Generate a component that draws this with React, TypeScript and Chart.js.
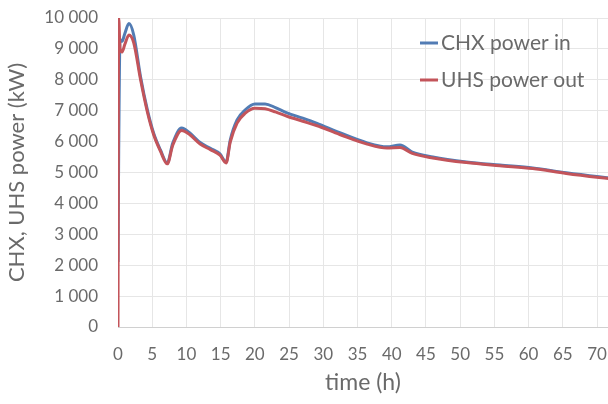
import React, { useEffect, useRef } from "react";
import { Chart, registerables } from "chart.js";

Chart.register(...registerables);

// Time axis (hours) shared by both series
const timeHours = [
  0, 0.1, 0.3, 0.6, 1.0, 1.6, 2.3, 3.3, 4.3, 5.2, 6.2, 7.2, 8.0, 9.3, 10.5, 12,
  13.5, 14.9, 15.8, 16.4, 17.4, 18.6, 20, 21.5, 23, 24.7, 27, 29, 32.4, 36.4,
  39.3, 41.2, 43, 46, 50.9, 55.8, 60.6, 65.5, 70.3, 72,
];

// Heat exchanger power in (kW)
const chxPowerIn = [
  2100, 5600, 9300, 9250, 9500, 9820, 9450, 8090, 7020, 6280, 5730, 5310, 5950,
  6440, 6280, 5970, 5780, 5600, 5340, 6050, 6700, 7030, 7220, 7220, 7100, 6930,
  6760, 6600, 6290, 5960, 5830, 5890, 5660, 5500, 5340, 5240, 5150, 4990, 4860,
  4820,
];

// Ultimate heat sink power out (kW)
const uhsPowerOut = [
  0, 10000, 9000, 8900, 9150, 9450, 9200, 8000, 6950, 6230, 5690, 5280, 5880,
  6360, 6220, 5920, 5740, 5560, 5310, 5980, 6600, 6920, 7080, 7060, 6960, 6820,
  6660, 6520, 6230, 5920, 5790, 5810, 5620, 5470, 5320, 5220, 5130, 4970, 4840,
  4800,
];

const seriesLabels = ["CHX power in", "UHS power out"];
const seriesColors = ["#527cb4", "#c3545a"];

const xMin = 0;
const xMax = 71.6;
const xStep = 5;
const yMin = 0;
const yMax = 10000;
const yStep = 1000;

const FONT = "Lato, 'Open Sans', sans-serif";
const TEXT = "#6a6a6a";
const HIDDEN = "rgba(0,0,0,0)";

const withSpaces = (v: number) =>
  String(v).replace(/\B(?=(\d{3})+(?!\d))/g, " ");

// Legend drawn inside the plot area, top-right, with short line samples
const insideLegend = {
  id: "insideLegend",
  afterDraw(chart: any) {
    const { ctx, chartArea } = chart;
    const x0 = chartArea.right - 188;
    const rows = [chartArea.top + 25, chartArea.top + 62];
    ctx.save();
    ctx.font = `21px ${FONT}`;
    ctx.textBaseline = "middle";
    ctx.textAlign = "left";
    chart.data.datasets.forEach((ds: any, i: number) => {
      const y = rows[i];
      ctx.strokeStyle = ds.borderColor;
      ctx.lineWidth = 3;
      ctx.beginPath();
      ctx.moveTo(x0, y);
      ctx.lineTo(x0 + 18, y);
      ctx.stroke();
      ctx.fillStyle = TEXT;
      ctx.fillText(ds.label, x0 + 21, y);
    });
    ctx.restore();
  },
};

export default function App() {
  const canvasRef = useRef<HTMLCanvasElement | null>(null);

  useEffect(() => {
    if (!canvasRef.current) return;
    const toPoints = (vals: number[]) =>
      timeHours.map((t, i) => ({ x: t, y: vals[i] }));

    const chart = new Chart(canvasRef.current, {
      type: "line",
      data: {
        datasets: [
          {
            label: seriesLabels[0],
            data: toPoints(chxPowerIn),
            borderColor: seriesColors[0],
            backgroundColor: seriesColors[0],
            borderWidth: 3,
            pointRadius: 0,
            cubicInterpolationMode: "monotone",
            order: 1,
          },
          {
            label: seriesLabels[1],
            data: toPoints(uhsPowerOut),
            borderColor: seriesColors[1],
            backgroundColor: seriesColors[1],
            borderWidth: 3,
            pointRadius: 0,
            cubicInterpolationMode: "monotone",
            order: 0,
          },
        ],
      },
      options: {
        animation: false,
        responsive: false,
        maintainAspectRatio: false,
        layout: { padding: { top: 18, right: 0, bottom: 0, left: 0 } },
        plugins: {
          legend: { display: false },
          tooltip: { enabled: false },
        },
        scales: {
          x: {
            type: "linear",
            min: xMin,
            max: xMax,
            border: { display: true, color: "#d0d0d0", width: 1 },
            grid: {
              color: "#e6e6e6",
              drawTicks: true,
              tickLength: 17,
              tickColor: HIDDEN,
            },
            ticks: {
              stepSize: xStep,
              includeBounds: false,
              padding: 0,
              color: TEXT,
              font: { family: FONT, size: 17 },
              maxRotation: 0,
            },
            title: {
              display: true,
              text: "time (h)",
              color: TEXT,
              font: { family: FONT, size: 23 },
              padding: { top: 0, bottom: 8 },
            },
            afterFit(scale: any) {
              scale.height = 77;
            },
          },
          y: {
            min: yMin,
            max: yMax,
            border: { display: false },
            grid: {
              color: "#e6e6e6",
              drawTicks: true,
              tickLength: 20,
              tickColor: HIDDEN,
            },
            ticks: {
              stepSize: yStep,
              padding: 0,
              color: TEXT,
              font: { family: FONT, size: 17 },
              callback: (v: any) => withSpaces(Number(v)),
            },
            title: {
              display: true,
              text: "CHX, UHS power (kW)",
              color: TEXT,
              font: { family: FONT, size: 22 },
              padding: { top: 4, bottom: 4 },
            },
            afterFit(scale: any) {
              scale.width = 118;
            },
          },
        },
      },
      plugins: [insideLegend],
    });
    return () => chart.destroy();
  }, []);

  return (
    <div
      style={{
        position: "fixed",
        left: 0,
        top: 0,
        width: 608,
        height: 404,
        background: "#ffffff",
      }}
    >
      <canvas ref={canvasRef} width={608} height={404} />
    </div>
  );
}
